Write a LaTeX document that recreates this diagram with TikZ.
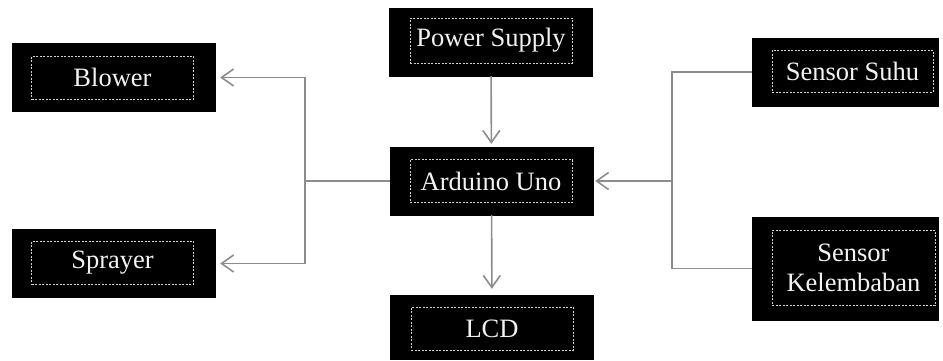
\documentclass[tikz,border=0pt]{standalone}
\usepackage{fontspec}
\setmainfont{Liberation Serif}
\usetikzlibrary{arrows.meta}

\begin{document}
\begin{tikzpicture}[x=1pt, y=-1pt,
		blok/.style={rectangle, fill=black, draw=black, inner sep=0pt, minimum width=203pt, minimum height=68pt},
		isi/.style={rectangle, draw=gray!35, dash pattern=on 2pt off 1.5pt, line width=0.8pt, text=gray!10,
			inner sep=0pt, minimum width=162pt, minimum height=43pt, align=center,
			font=\fontsize{26.5}{30}\selectfont},
		garis/.style={draw=gray!90, line width=1.6pt},
		panah/.style={garis, -{Straight Barb[length=12pt,width=17pt]}}]
		
		\useasboundingbox (0,0) rectangle (943,360);
		
		% kotak luar
		\node[blok] (blower) at (113.5,77.5) {};
		\node[blok] (sprayer) at (113.5,263.5) {};
		\node[blok] (power) at (491,42) {};
		\node[blok] (arduino) at (491.5,181) {};
		\node[blok, minimum height=64pt] (lcd) at (492,327) {};
		\node[blok, minimum width=186pt] (suhu) at (845,72) {};
		\node[blok, minimum width=186pt, minimum height=103pt] (lembab) at (845,268.5) {};
		
		% kotak dalam bergaris putus
		\node[isi] (blower-in) at (112.5,77.5) {Blower};
		\node[isi] (sprayer-in) at (112.5,262.5) {Sprayer};
		\node[isi, minimum height=45pt] (power-in) at (491,40.5) {Power Supply};
		\node[isi] (arduino-in) at (491,181) {Arduino Uno};
		\node[isi] (lcd-in) at (492,328.5) {LCD};
		\node[isi, minimum width=161pt, minimum height=42pt] (suhu-in) at (852.5,71) {Sensor Suhu};
		\node[isi, minimum width=163pt, minimum height=75pt] (lembab-in) at (853.5,267.5) {Sensor\\Kelembaban};
		
		\coordinate (kiri) at (305,181);
		\coordinate (kanan) at (672,181);
		
		% penghubung
		\draw[panah, shorten >=3pt] (power) -- (arduino);
		\draw[panah, shorten >=6pt] (arduino) -- (lcd);
		\draw[garis] (arduino.west) -- (kiri);
		\draw[panah, shorten >=5pt] (kiri) |- (blower);
		\draw[panah, shorten >=5pt] (kiri) |- (sprayer);
		\draw[garis] (suhu.west) -| (kanan) |- (lembab.west);
		\draw[panah, shorten >=2pt] (kanan) -- (arduino.east);
\end{tikzpicture}
\end{document}
